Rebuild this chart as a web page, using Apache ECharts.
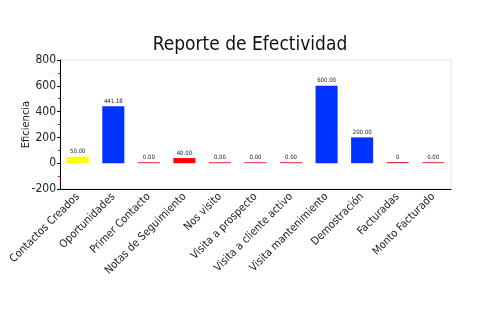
<!DOCTYPE html>
<html>
<head>
<meta charset="utf-8">
<script src="https://cdn.jsdelivr.net/npm/echarts@6/dist/echarts.min.js"></script>
<style>
  html, body { margin: 0; padding: 0; background: #fff; }
  #chart { width: 500px; height: 330px; }
</style>
</head>
<body>
<div id="chart"></div>
<script>
// Effectiveness report: one bar per pipeline stage
const categories = [
  'Contactos Creados', 'Oportunidades', 'Primer Contacto', 'Notas de Seguimiento',
  'Nos visito', 'Visita a prospecto', 'Visita a cliente activo',
  'Visita mantenimiento', 'Demostración', 'Facturadas', 'Monto Facturado'
];
const values = [50, 441.18, 0, 40, 0, 0, 0, 600, 200, 0, 0];
const valueLabels = ['50.00', '441.18', '0.00', '40.00', '0.00', '0.00', '0.00', '600.00', '200.00', '0', '0.00'];
const barColors = ['#ffff00', '#0033ff', '#e8262b', '#ff0000', '#e8262b', '#e8262b', '#e8262b', '#0033ff', '#0033ff', '#cc0000', '#e8262b'];
const yTicks = { min: -200, max: 800, interval: 200 };

const FONT = '"DejaVu Sans Condensed", "DejaVu Sans", sans-serif';

const chart = echarts.init(document.getElementById('chart'), null, { renderer: 'canvas' });
chart.setOption({
  animation: false,
  title: {
    text: 'Reporte de Efectividad',
    left: 'center',
    top: 31,
    textStyle: { fontFamily: FONT, fontSize: 19, fontWeight: 'normal', color: '#111' }
  },
  grid: {
    left: 60, right: 49, top: 60, bottom: 141,
    show: true, borderColor: '#e4e4e4', borderWidth: 1, backgroundColor: '#fff'
  },
  xAxis: {
    type: 'category',
    data: categories,
    axisLine: { onZero: false, lineStyle: { color: '#000', width: 1 } },
    axisTick: { alignWithLabel: true, length: 3, lineStyle: { color: '#333' } },
    axisLabel: {
      rotate: 45, interval: 0, margin: 6,
      fontFamily: FONT, fontSize: 11, color: '#222'
    },
    splitLine: { show: false }
  },
  yAxis: {
    type: 'value',
    min: yTicks.min, max: yTicks.max, interval: yTicks.interval,
    name: 'Eficiencia',
    nameLocation: 'middle',
    nameGap: 28,
    nameMoveOverlap: false,
    nameTextStyle: { fontFamily: FONT, fontSize: 11, color: '#222' },
    axisLine: { show: true, lineStyle: { color: '#000', width: 1 } },
    axisTick: { show: true, length: 3, lineStyle: { color: '#000' } },
    minorTick: { show: true, splitNumber: 2, length: 2, lineStyle: { color: '#ff0000' } },
    axisLabel: { fontFamily: FONT, fontSize: 12, color: '#222', margin: 4 },
    splitLine: { show: false }
  },
  series: [{
    type: 'bar',
    barWidth: '62%',
    barMinHeight: 1,
    data: values.map((v, i) => ({
      value: v,
      itemStyle: { color: barColors[i] },
      label: { formatter: valueLabels[i] }
    })),
    label: {
      show: true,
      position: 'top',
      distance: 2,
      fontFamily: FONT,
      fontSize: 6,
      color: '#222'
    }
  }]
});
</script>
</body>
</html>
